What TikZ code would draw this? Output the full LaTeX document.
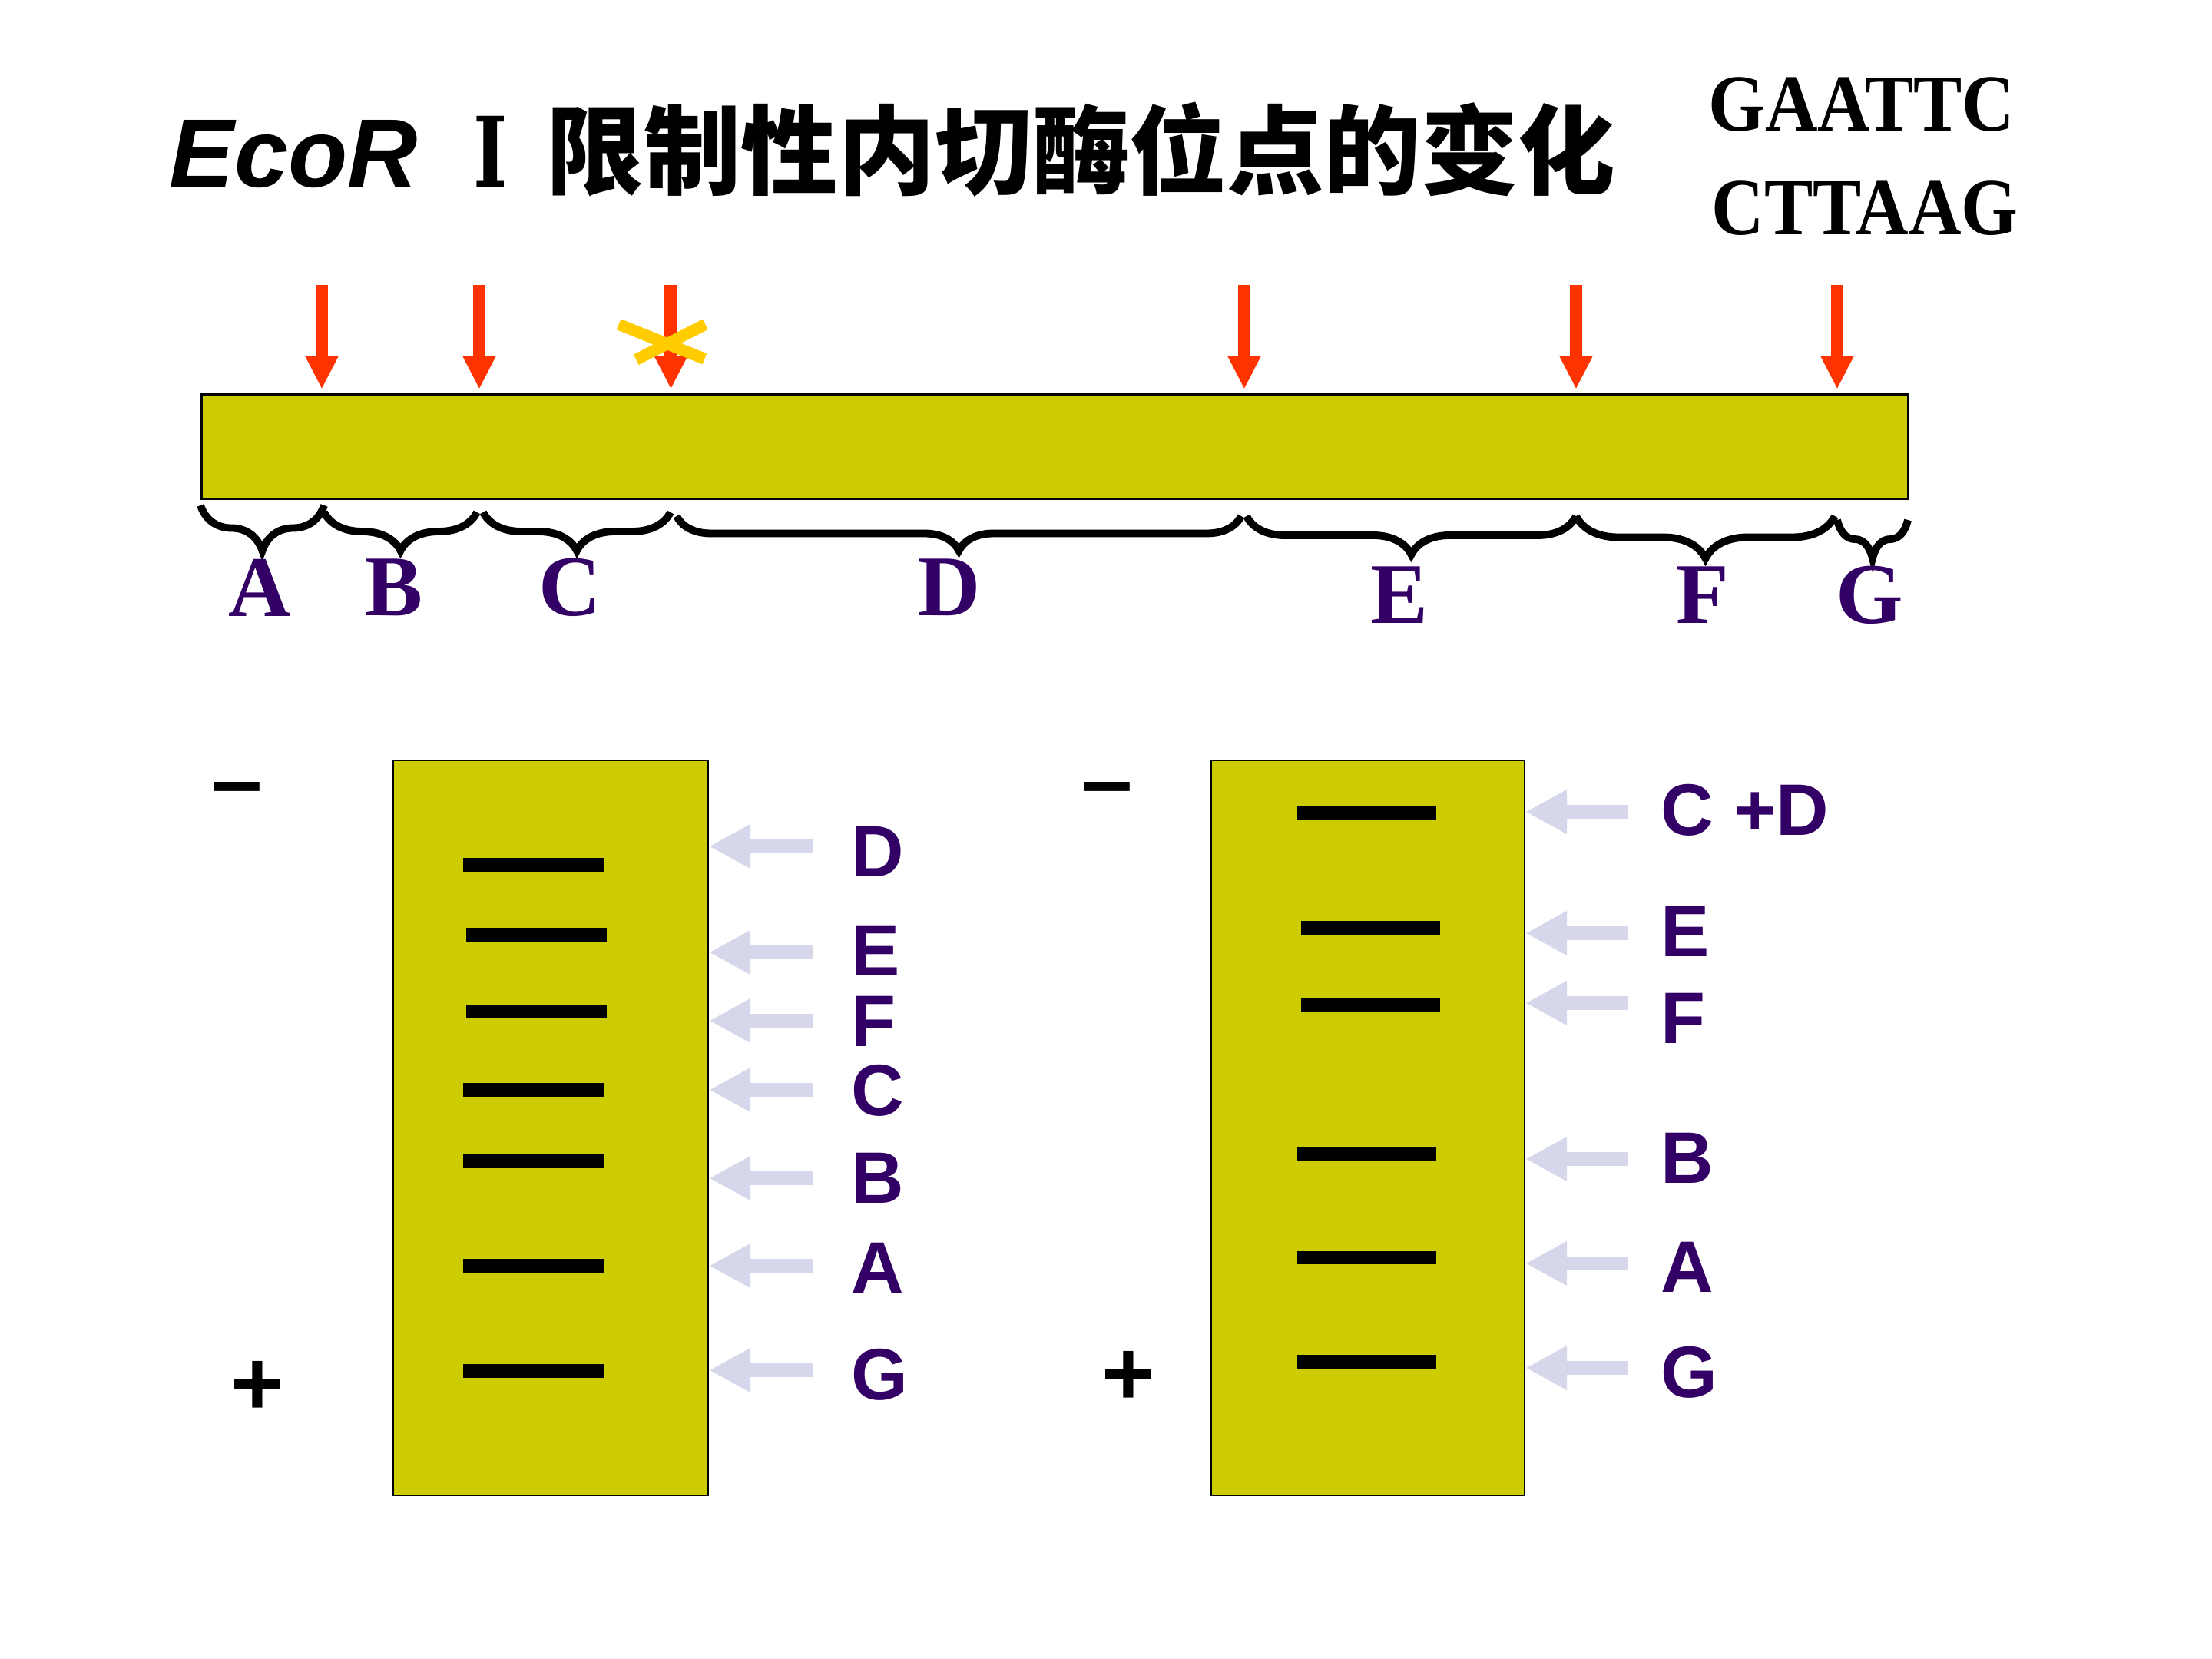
\documentclass[tikz,border=0pt]{standalone}
\usepackage{fontspec}
\setmainfont{Liberation Serif}
\setsansfont{Liberation Sans}
\newfontfamily\zhfont{Noto Sans CJK SC}
\newfontfamily\seqfont{Liberation Serif}[FakeStretch=0.9]
\newfontfamily\numeralfont{DejaVu Serif}[FakeStretch=0.75]
\usetikzlibrary{arrows.meta,decorations.pathreplacing,positioning}

\definecolor{gelyellow}{HTML}{CCCC00}
\definecolor{cutred}{HTML}{FF3300}
\definecolor{crossgold}{HTML}{FFCC00}
\definecolor{labelpurple}{HTML}{330066}
\definecolor{palearrow}{HTML}{D7D7EB}

\tikzset{
  gel/.style={draw, line width=0.6pt, fill=gelyellow, inner sep=0pt, anchor=north west},
  cutarrow/.style={cutred, line width=4.8pt, -{Triangle[length=0.43cm,width=0.40cm]}},
  fragbrace/.style={decorate, line width=2.8pt, decoration={brace,mirror,amplitude=#1}},
  fraglabel/.style={text=labelpurple, font=\bfseries\fontsize{32}{32}\selectfont},
  bandline/.style={line width=5.1pt},
  bandarrow/.style={palearrow, line width=5.4pt, -{Triangle[length=0.54cm,width=0.54cm]}},
  bandlabel/.style={text=labelpurple, font=\sffamily\bfseries\fontsize{27}{27}\selectfont, anchor=west, inner sep=0pt},
  polesign/.style={font=\sffamily\bfseries\fontsize{34}{34}\selectfont},
}

\begin{document}
\begin{tikzpicture}[x=1cm,y=-1cm]
    \useasboundingbox (0,0) rectangle (28.8,21.6);

    % title
    \node[anchor=base west, inner sep=0pt, font=\sffamily\bfseries\itshape\fontsize{36}{36}\selectfont] (ecor) at (2.20,2.44) {EcoR};
    \node[anchor=base, inner sep=0pt, font=\numeralfont\bfseries\fontsize{36}{36}\selectfont] (numeral) at (6.39,2.44) {Ⅰ};
    \node[anchor=base west, inner sep=0pt, font=\zhfont\bfseries\fontsize{36}{36}\selectfont] (heading) at (7.11,2.44) {限制性内切酶位点的变化};
    \node[font=\seqfont\bfseries\fontsize{30}{30}\selectfont] (siteup) at (24.24,1.36) {GAATTC};
    \node[font=\seqfont\bfseries\fontsize{30}{30}\selectfont] (sitedown) at (24.28,2.71) {CTTAAG};

    % DNA
    \node[gel, line width=0.8pt, minimum width=22.22cm, minimum height=1.36cm] (dna) at (2.61,5.12) {};

    \foreach \x [count=\i] in {4.19,6.24,8.735,16.20,20.52,23.92}{
        \coordinate (site\i) at (\x,3.71);
        \draw[cutarrow, shorten >=1.5pt] (site\i) -- (site\i |- dna.north);
    }
    \draw[crossgold, line width=4.3pt] (8.057,4.223) -- (9.173,4.673) (8.283,4.683) -- (9.183,4.223);

    % fragments
    \foreach \a/\b/\t/\amp/\lab/\lx/\ly in {2.61/4.22/6.58/0.59cm/A/3.38/7.65,
        4.22/6.21/6.67/0.50cm/B/5.13/7.65, 6.29/8.73/6.67/0.50cm/C/7.42/7.65,
        8.81/16.16/6.72/0.45cm/D/12.36/7.65, 16.23/20.52/6.72/0.50cm/E/18.22/7.75,
        20.52/23.89/6.72/0.55cm/F/22.17/7.75, 23.92/24.84/6.77/0.50cm/G/24.34/7.75}{
        \draw[fragbrace=\amp] (\a,\t) -- (\b,\t);
        \node[fraglabel] (frag\lab) at (\lx,\ly) {\lab};
    }

    % gels
    \node[gel, minimum width=4.10cm, minimum height=9.57cm] (laneone) at (5.11,9.89) {};
    \node[gel, minimum width=4.08cm, minimum height=9.57cm] (lanetwo) at (15.76,9.89) {};

    \node[polesign] (minusone) at (3.09,10.38) {–};
    \node[polesign] (plusone) at (3.35,18.07) {+};
    \node[polesign] (minustwo) at (14.42,10.38) {–};
    \node[polesign] (plustwo) at (14.69,17.94) {+};

    \foreach \bx/\by/\ay/\lab/\ly [count=\i] in {6.03/11.26/11.02/D/11.09,
        6.07/12.17/12.40/E/12.38, 6.07/13.17/13.29/F/13.30, 6.03/14.19/14.19/C/14.20,
        6.03/15.12/15.34/B/15.34, 6.03/16.48/16.48/A/16.51, 6.03/17.85/17.84/G/17.90}{
        \draw[bandline] (\bx,\by) -- ++(1.83,0);
        \node[bandlabel] (one\i) at (11.08,\ly) {\lab};
        \coordinate (tailone\i) at (10.59,\ay);
        \draw[bandarrow] (tailone\i) -- (laneone.east |- tailone\i);
    }

    \foreach \bx/\by/\ay/\lab/\ly [count=\i] in {16.89/10.586/10.57/C +D/10.55,
        16.94/12.08/12.15/E/12.13, 16.94/13.08/13.06/F/13.26, 16.89/15.02/15.09/B/15.08,
        16.89/16.375/16.45/A/16.50, 16.89/17.73/17.81/G/17.87}{
        \draw[bandline] (\bx,\by) -- ++(1.81,0);
        \node[bandlabel] (two\i) at (21.62,\ly) {\lab};
        \coordinate (tailtwo\i) at (21.195,\ay);
        \draw[bandarrow] (tailtwo\i) -- (lanetwo.east |- tailtwo\i);
    }
\end{tikzpicture}
\end{document}
